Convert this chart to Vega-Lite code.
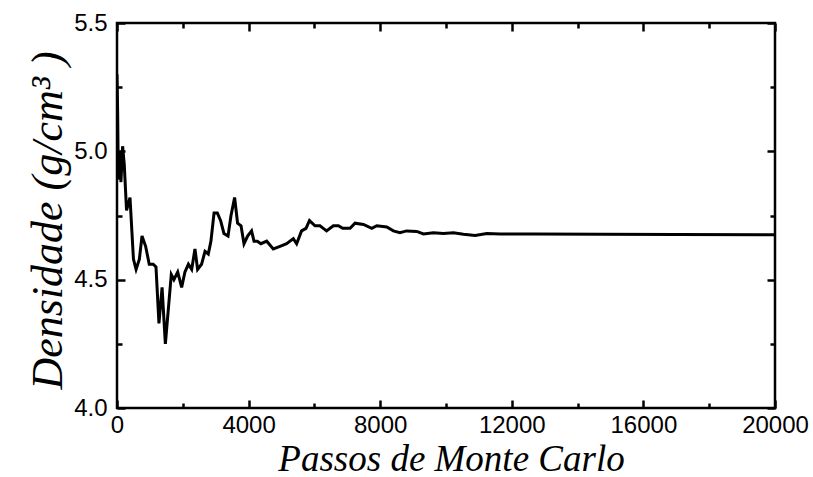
{
  "$schema": "https://vega.github.io/schema/vega-lite/v6.json",
  "width": 658,
  "height": 385,
  "autosize": {"type": "none"},
  "padding": {"left": 117, "top": 23, "right": 38, "bottom": 69},
  "background": "white",
  "config": {
    "view": {"stroke": "black", "strokeWidth": 2.5},
    "axis": {
      "domain": false,
      "grid": false,
      "tickColor": "black",
      "tickWidth": 2.5,
      "labelFont": "Liberation Sans",
      "labelFontSize": 24,
      "labelColor": "black",
      "titleFont": "Liberation Serif",
      "titleFontStyle": "italic",
      "titleFontWeight": "normal",
      "titleColor": "black"
    }
  },
  "data": {
    "values": [
      {"step": 0, "dens": 5.3},
      {"step": 20, "dens": 5.15},
      {"step": 40, "dens": 4.89},
      {"step": 90, "dens": 5.0},
      {"step": 120, "dens": 4.88},
      {"step": 170, "dens": 5.02},
      {"step": 220, "dens": 4.95},
      {"step": 290, "dens": 4.77},
      {"step": 395, "dens": 4.82},
      {"step": 500, "dens": 4.58},
      {"step": 580, "dens": 4.54},
      {"step": 680, "dens": 4.58},
      {"step": 760, "dens": 4.67},
      {"step": 870, "dens": 4.63},
      {"step": 980, "dens": 4.56},
      {"step": 1100, "dens": 4.56},
      {"step": 1185, "dens": 4.55},
      {"step": 1275, "dens": 4.33},
      {"step": 1370, "dens": 4.47},
      {"step": 1470, "dens": 4.25},
      {"step": 1650, "dens": 4.52},
      {"step": 1730, "dens": 4.5},
      {"step": 1845, "dens": 4.53},
      {"step": 1965, "dens": 4.47},
      {"step": 2065, "dens": 4.53},
      {"step": 2170, "dens": 4.56},
      {"step": 2270, "dens": 4.54},
      {"step": 2370, "dens": 4.62},
      {"step": 2450, "dens": 4.54},
      {"step": 2570, "dens": 4.56},
      {"step": 2675, "dens": 4.61},
      {"step": 2775, "dens": 4.6},
      {"step": 2855, "dens": 4.65},
      {"step": 2950, "dens": 4.76},
      {"step": 3050, "dens": 4.76},
      {"step": 3150, "dens": 4.73},
      {"step": 3250, "dens": 4.68},
      {"step": 3375, "dens": 4.67},
      {"step": 3465, "dens": 4.75},
      {"step": 3575, "dens": 4.82},
      {"step": 3665, "dens": 4.72},
      {"step": 3770, "dens": 4.71},
      {"step": 3860, "dens": 4.64},
      {"step": 3970, "dens": 4.67},
      {"step": 4090, "dens": 4.69},
      {"step": 4165, "dens": 4.65},
      {"step": 4265, "dens": 4.65},
      {"step": 4375, "dens": 4.64},
      {"step": 4550, "dens": 4.65},
      {"step": 4750, "dens": 4.62},
      {"step": 4955, "dens": 4.63},
      {"step": 5155, "dens": 4.64},
      {"step": 5360, "dens": 4.66},
      {"step": 5460, "dens": 4.64},
      {"step": 5610, "dens": 4.69},
      {"step": 5745, "dens": 4.7},
      {"step": 5850, "dens": 4.73},
      {"step": 6020, "dens": 4.71},
      {"step": 6170, "dens": 4.71},
      {"step": 6270, "dens": 4.7},
      {"step": 6370, "dens": 4.69},
      {"step": 6575, "dens": 4.71},
      {"step": 6730, "dens": 4.71},
      {"step": 6860, "dens": 4.7},
      {"step": 7085, "dens": 4.7},
      {"step": 7235, "dens": 4.72},
      {"step": 7490, "dens": 4.715},
      {"step": 7745, "dens": 4.7},
      {"step": 7895, "dens": 4.71},
      {"step": 8200, "dens": 4.705},
      {"step": 8400, "dens": 4.69},
      {"step": 8600, "dens": 4.683},
      {"step": 8800, "dens": 4.69},
      {"step": 9110, "dens": 4.688},
      {"step": 9315, "dens": 4.678},
      {"step": 9615, "dens": 4.683},
      {"step": 9920, "dens": 4.68},
      {"step": 10225, "dens": 4.683},
      {"step": 10530, "dens": 4.677},
      {"step": 10885, "dens": 4.672},
      {"step": 11240, "dens": 4.68},
      {"step": 11645, "dens": 4.678},
      {"step": 12660, "dens": 4.678},
      {"step": 14690, "dens": 4.677},
      {"step": 17000, "dens": 4.676},
      {"step": 20000, "dens": 4.675}
    ]
  },
  "resolve": {"axis": {"x": "independent", "y": "independent"}},
  "layer": [
    {
      "mark": {"type": "line", "color": "black", "strokeWidth": 3, "strokeJoin": "miter", "clip": true},
      "encoding": {
        "x": {
          "field": "step", "type": "quantitative",
          "scale": {"domain": [0, 20000], "nice": false},
          "axis": {
            "orient": "bottom",
            "values": [0, 4000, 8000, 12000, 16000, 20000],
            "format": "d",
            "tickSize": -8,
            "labelPadding": 13,
            "labelFlush": false,
            "title": "Passos de Monte Carlo",
            "titleFontSize": 37,
            "titleBaseline": "alphabetic",
            "titleX": 334,
            "titleY": 62
          }
        },
        "y": {
          "field": "dens", "type": "quantitative",
          "scale": {"domain": [4.0, 5.5], "nice": false, "zero": false},
          "axis": {
            "orient": "left",
            "values": [4.0, 4.5, 5.0, 5.5],
            "format": ".1f",
            "tickSize": -8,
            "labelPadding": 18,
            "labelFlush": false,
            "title": "Densidade (g/cm³ )",
            "titleFontSize": 44,
            "titleBaseline": "alphabetic",
            "titleX": -56,
            "titleY": 197
          }
        }
      }
    },
    {
      "mark": {"type": "line", "color": "black", "strokeWidth": 3, "strokeOpacity": 0},
      "encoding": {
        "x": {
          "field": "step", "type": "quantitative",
          "axis": {"orient": "top", "values": [0, 4000, 8000, 12000, 16000, 20000], "labels": false, "tickSize": -8, "title": null}
        },
        "y": {
          "field": "dens", "type": "quantitative",
          "axis": {"orient": "right", "values": [4.0, 4.5, 5.0, 5.5], "labels": false, "tickSize": -8, "title": null}
        }
      }
    },
    {
      "mark": {"type": "line", "color": "black", "strokeWidth": 3, "strokeOpacity": 0},
      "encoding": {
        "x": {
          "field": "step", "type": "quantitative",
          "axis": {"orient": "bottom", "values": [2000, 6000, 10000, 14000, 18000], "labels": false, "tickSize": -5, "title": null}
        },
        "y": {
          "field": "dens", "type": "quantitative",
          "axis": {"orient": "left", "values": [4.25, 4.75, 5.25], "labels": false, "tickSize": -5, "title": null}
        }
      }
    },
    {
      "mark": {"type": "line", "color": "black", "strokeWidth": 3, "strokeOpacity": 0},
      "encoding": {
        "x": {
          "field": "step", "type": "quantitative",
          "axis": {"orient": "top", "values": [2000, 6000, 10000, 14000, 18000], "labels": false, "tickSize": -5, "title": null}
        },
        "y": {
          "field": "dens", "type": "quantitative",
          "axis": {"orient": "right", "values": [4.25, 4.75, 5.25], "labels": false, "tickSize": -5, "title": null}
        }
      }
    }
  ]
}
